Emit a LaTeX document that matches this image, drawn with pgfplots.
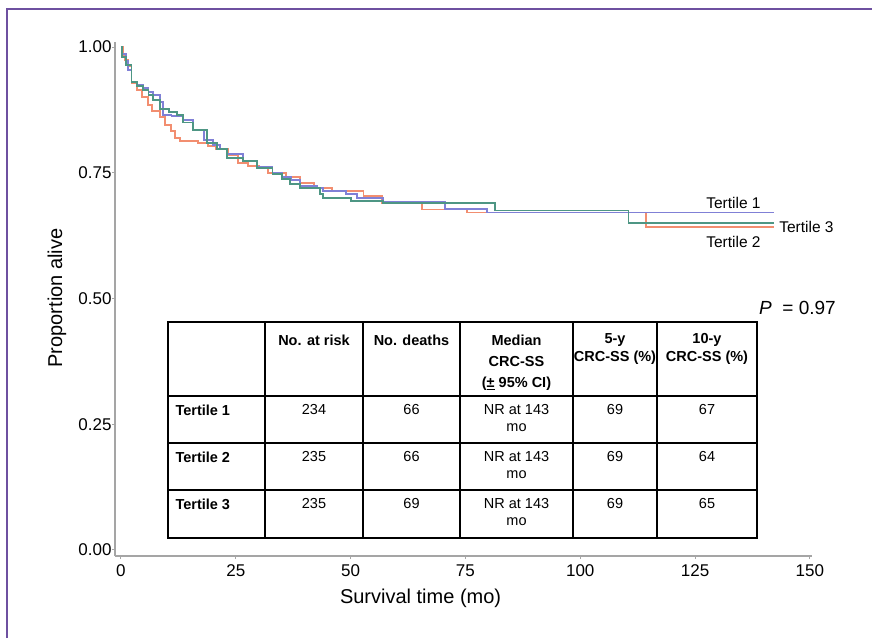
\documentclass[border=0pt]{standalone}
\usepackage{fontspec}
\setmainfont{Liberation Sans}
\usepackage{pgfplots}
\pgfplotsset{compat=1.18}
\definecolor{tblue}{RGB}{128,128,214}
\definecolor{torange}{RGB}{242,142,112}
\definecolor{tteal}{RGB}{78,150,132}
\definecolor{framec}{RGB}{110,80,160}
\definecolor{axgray}{RGB}{165,165,165}
\newcommand{\tb}{\fontsize{14.5}{16}\selectfont\bfseries}
\newcommand{\tr}{\fontsize{14.5}{16}\selectfont}
\begin{document}
\begin{tikzpicture}[x=1pt,y=1pt]
\useasboundingbox (0,0) rectangle (872,638);
\draw[framec, line width=1.5pt] (7,0) -- (7,629) -- (872,629);
\begin{axis}[
  at={(115pt,82pt)}, anchor=south west,
  scale only axis, width=696.7pt, height=514pt,
  xmin=-1.3, xmax=150.4, ymin=-0.012, ymax=1.01,
  axis x line*=bottom, axis y line*=left,
  axis line style={axgray, line width=1.8pt, -},
  xtick={0,25,50,75,100,125,150},
  ytick={0,0.25,0.5,0.75,1},
  yticklabel style={/pgf/number format/fixed, /pgf/number format/fixed zerofill, /pgf/number format/precision=2},
  /pgf/number format/assume math mode=true,
  tick align=outside, major tick length=3pt,
  tick style={axgray, line width=1pt},
  ticklabel style={font=\fontsize{17}{17}\selectfont, black},
  xticklabel style={yshift=-2pt},
  yticklabel style={xshift=3pt},
  xlabel={Survival time (mo)},
  ylabel={Proportion alive},
  label style={font=\fontsize{20}{20}\selectfont},
  xlabel style={at={(rel axis cs:0.4386,0)}, anchor=center, yshift=-42pt},
  ylabel style={at={(rel axis cs:0,0.502)}, anchor=center, yshift=58pt},
  clip=false,
]
\addplot[const plot, torange, line width=1.9pt] coordinates {
(0,1.000)(0.4,0.985)(0.9,0.975)(1.6,0.962)(2.3,0.928)(3.5,0.915)(4.5,0.900)(5.8,0.885)(6.8,0.873)(8.5,0.860)(9.5,0.845)(10.8,0.833)(11.8,0.820)(12.8,0.814)(16.8,0.810)(18.9,0.804)(20.7,0.798)(23.3,0.786)(25.5,0.770)(27.7,0.764)(30,0.760)(32.1,0.750)(36,0.741)(39,0.730)(42,0.720)(46,0.714)(52.8,0.704)(56.8,0.689)(65.5,0.677)(75.4,0.671)(114.4,0.642)(142.2,0.642)};
\addplot[const plot, tblue, line width=1.9pt] coordinates {
(0,1.000)(0.3,0.986)(1.1,0.972)(1.6,0.955)(2.3,0.930)(3.5,0.925)(4.8,0.918)(6,0.910)(7,0.905)(8.5,0.890)(9.2,0.865)(11,0.862)(13.5,0.855)(15.7,0.835)(18,0.815)(20,0.805)(21.5,0.798)(23,0.788)(26.6,0.774)(29.6,0.762)(33,0.750)(35,0.742)(37,0.735)(39,0.724)(42.7,0.720)(44,0.714)(49,0.707)(51.3,0.700)(57,0.691)(70.6,0.678)(79.7,0.671)(142.2,0.671)};
\addplot[const plot, tteal, line width=1.9pt] coordinates {
(0,1.000)(0.3,0.980)(1.1,0.965)(2.3,0.930)(3.5,0.922)(4.8,0.915)(6,0.905)(7,0.895)(8.5,0.877)(10.5,0.870)(12.2,0.865)(13.5,0.850)(15.7,0.835)(18.7,0.810)(21,0.798)(23,0.780)(26.6,0.774)(29.6,0.760)(33,0.748)(35,0.738)(36.8,0.728)(39,0.720)(43.4,0.708)(44,0.700)(50,0.694)(57,0.689)(81.5,0.675)(110.5,0.650)(142.2,0.650)};
\node[anchor=west, font=\fontsize{15.5}{16}\selectfont, inner sep=0pt] at (axis cs:127.4,0.690) {Tertile 1};
\node[anchor=west, font=\fontsize{15.5}{16}\selectfont, inner sep=0pt] at (axis cs:143.3,0.642) {Tertile 3};
\node[anchor=west, font=\fontsize{15.5}{16}\selectfont, inner sep=0pt] at (axis cs:127.4,0.612) {Tertile 2};
\end{axis}
% P value
\node[anchor=west, font=\fontsize{19}{20}\selectfont, inner sep=0pt] at (759,330) {\textit{P}\ \ = 0.97};
% table
\fill[white] (168,100) rectangle (757,316);
\begin{scope}[line width=2.6pt, black]
\draw (168,100) rectangle (757,316);
\foreach \x in {265,363,460,573,657} \draw (\x,100) -- (\x,316);
\foreach \y in {242,195,148} \draw (168,\y) -- (757,\y);
\end{scope}
\node[font=\tb] at (314,298) {No. at risk};
\node[font=\tb] at (411.5,298) {No. deaths};
\node[font=\tb] at (516.5,298) {Median};
\node[font=\tb] at (516.5,276) {CRC-SS};
\node[font=\tb] at (516.5,254) {(\underline{±} 95\% CI)};
\node[font=\tb] at (615,298) {5-y};
\node[font=\tb, inner sep=0pt] at (615,280) {CRC-SS (\%)};
\node[font=\tb] at (707,298) {10-y};
\node[font=\tb] at (707,280) {CRC-SS (\%)};
\foreach \ya/\yb/\lab/\n/\d/\f/\t in {228/210/1/234/66/69/67, 181/163/2/235/66/69/64, 134/116/3/235/69/69/65}{
  \node[font=\tb, anchor=west] at (172,\ya) {Tertile \lab};
  \node[font=\tr] at (314,\ya) {\n};
  \node[font=\tr] at (411.5,\ya) {\d};
  \node[font=\tr] at (516.5,\ya) {NR at 143};
  \node[font=\tr] at (516.5,\yb) {mo};
  \node[font=\tr] at (615,\ya) {\f};
  \node[font=\tr] at (707,\ya) {\t};
}
\end{tikzpicture}
\end{document}
